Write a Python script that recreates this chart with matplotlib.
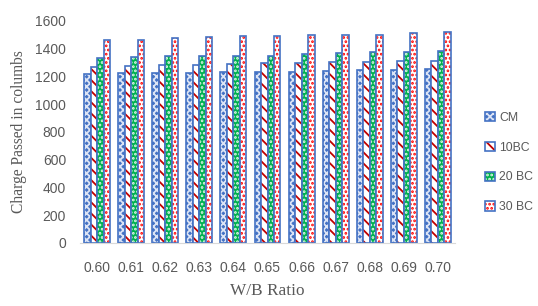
import matplotlib
matplotlib.use("Agg")
import matplotlib.pyplot as plt
import numpy as np

ratios = ["0.60", "0.61", "0.62", "0.63", "0.64", "0.65", "0.66", "0.67", "0.68", "0.69", "0.70"]
cm = [1217, 1225, 1225, 1225, 1230, 1230, 1230, 1237, 1244, 1249, 1256]
bc10 = [1268, 1275, 1283, 1283, 1288, 1295, 1295, 1302, 1302, 1309, 1309]
bc20 = [1333, 1340, 1348, 1348, 1350, 1350, 1360, 1367, 1374, 1374, 1386]
bc30 = [1464, 1464, 1478, 1483, 1490, 1490, 1497, 1500, 1502, 1517, 1520]
series_names = ["CM", "10BC", "20 BC", "30 BC"]

EDGE = "#4472C4"
# (fill, hatch, hatch colour)
styles = [
    ("#4472C4", "xxxxx", "#DCE4F5"),
    ("white", "\\\\\\", "#C00000"),
    ("#00B050", "....", "#E6F7EC"),
    ("white", "....", "#FF0000"),
]

plt.rcParams["hatch.linewidth"] = 1.3

fig = plt.figure(figsize=(5.38, 3.06), dpi=100)
ax = fig.add_axes([80 / 538, 1 - 243 / 306, 375 / 538, 222 / 306])

x = np.arange(len(ratios))
w = 0.19
handles = []
for i, (vals, name) in enumerate(zip([cm, bc10, bc20, bc30], series_names)):
    fill, hatch, hcol = styles[i]
    pos = x + (i - 1.5) * w
    ax.bar(pos, vals, width=w, color=fill, edgecolor=hcol, hatch=hatch, linewidth=0)
    ax.bar(pos, vals, width=w, facecolor="none", edgecolor=EDGE, linewidth=1.2)
    h1 = plt.Rectangle((0, 0), 1, 1, facecolor=fill, edgecolor=hcol, hatch=hatch, linewidth=0)
    h2 = plt.Rectangle((0, 0), 1, 1, facecolor="none", edgecolor=EDGE, linewidth=1.2)
    handles.append((h1, h2))

ax.set_xlim(-0.5, len(ratios) - 0.5)
ax.set_ylim(0, 1600)
ax.set_yticks(range(0, 1601, 200))
ax.set_xticks(x)
ax.set_xticklabels(ratios)
for s in ["top", "right", "left"]:
    ax.spines[s].set_visible(False)
ax.spines["bottom"].set_color("#D9D9D9")
ax.tick_params(length=0, labelsize=10, labelcolor="#595959")
ax.tick_params(axis="y", pad=10)
ax.tick_params(axis="x", pad=13)
for lab in ax.get_xticklabels() + ax.get_yticklabels():
    lab.set_family("Liberation Sans")

ax.set_ylabel("Charge Passed in columbs", family="Liberation Serif", fontsize=11.2, color="#595959", labelpad=6)
ax.set_xlabel("W/B Ratio", family="Liberation Serif", fontsize=12.4, color="#595959", labelpad=6)

leg = fig.legend(handles, series_names, loc="upper left", bbox_to_anchor=(474 / 538, 1 - 101 / 306),
                 frameon=False, labelspacing=1.45, handlelength=0.8, handleheight=0.8,
                 handletextpad=0.35, prop={"family": "Liberation Sans", "size": 8.8})
for t in leg.get_texts():
    t.set_color("#595959")

fig.savefig("out.png", dpi=100)
